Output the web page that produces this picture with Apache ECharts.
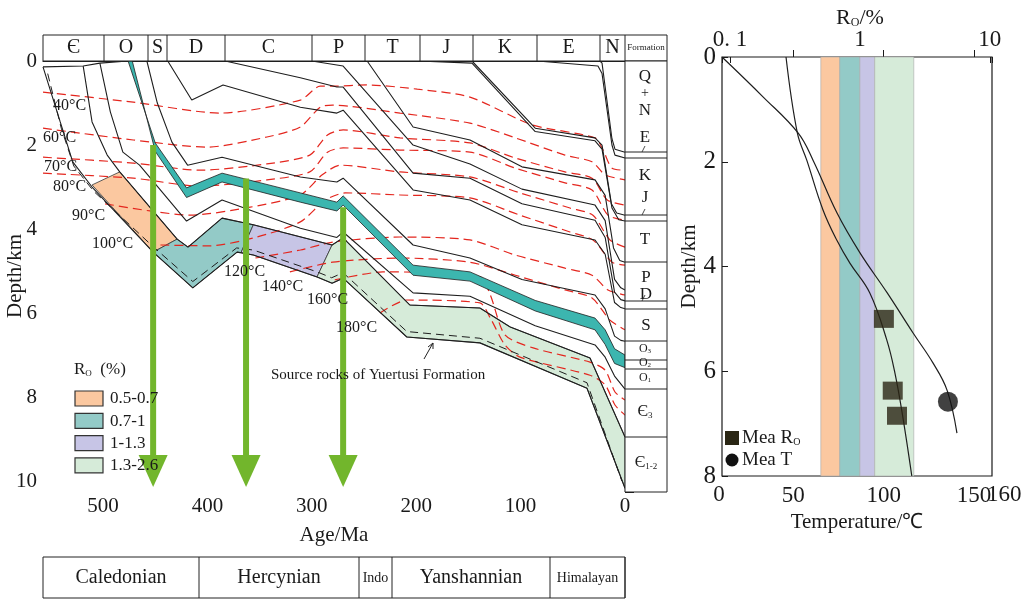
<!DOCTYPE html>
<html><head><meta charset="utf-8">
<script src="https://cdn.jsdelivr.net/npm/echarts/dist/echarts.min.js"></script>
<style>html,body{margin:0;padding:0;background:#fff}#c{width:1024px;height:601px}</style>
</head><body><div id="c"></div>
<script>
const FONT = '"Liberation Serif","Times New Roman",serif';
// ---------- Burial history (age Ma, depth km) ----------
const surfaceLine = [[557.5,0.14],[519,0.12],[503,0.05],[476,0]];
const baseN = [[24,0],[22,0.05],[12.5,1.85],[9.6,2.1],[0,2.17]];
const baseE = [[84,0],[25.9,0.12],[22,0.3],[12.5,2.0],[9.6,2.24],[0,2.31]];
const baseK = [[146.6,0],[86,1.6],[28.7,1.83],[22,2.0],[13,3.4],[8,3.62],[0,3.67]];
const baseJ = [[198,0],[146.6,0.05],[86,1.68],[28.7,1.9],[22,2.1],[12.5,3.5],[6,3.78],[0,3.81]];
const baseT = [[247,0],[203,1.57],[148.5,1.88],[98.7,2.52],[28.7,2.83],[19,3.2],[11,4.45],[5,4.75],[0,4.79]];
const baseP = [[300,0],[270,0.12],[203,2.0],[148.5,2.45],[98.7,3.05],[28.7,3.43],[19,3.8],[10,5.2],[4,5.4],[0,5.45]];
const baseC = [[383,0],[311,0.4],[276,0.62],[270,0.62],[203,2.67],[148.5,2.79],[98.7,3.4],[28.7,3.79],[19,4.2],[10,5.5],[4,5.68],[0,5.71]];
const baseD = [[438,0],[415,0.93],[385,0.57],[311,1.1],[276,1.24],[270,1.17],[203,3.07],[148.5,3.31],[98.7,3.9],[28.7,4.26],[19,4.6],[10,5.75],[4,5.87],[0,5.9]];
const baseS = [[458,0],[448,1.0],[434,1.93],[419,2.48],[386,2.29],[311,2.76],[276,2.88],[270,2.79],[203,4.38],[148.5,4.69],[98.7,5.2],[28.7,5.57],[19,5.9],[10,6.55],[4,6.65],[0,6.67]];
const tealTop = [[476,0],[450,1.95],[420,3.02],[386,2.67],[311,3.14],[276,3.36],[270,3.21],[203,4.86],[148.5,5.02],[86,5.7],[28.7,6.12],[19,6.4],[10,6.85],[0,7.0]];
const tealBottom = [[472,0],[450,2.15],[420,3.25],[386,2.88],[311,3.36],[276,3.57],[270,3.43],[203,5.1],[148.5,5.24],[86,5.95],[28.7,6.4],[19,6.75],[10,7.2],[0,7.3]];
const baseO1 = [[503,0.05],[493,1.21],[481,2.17],[465,2.48],[420,3.81],[386,3.31],[311,3.98],[276,4.2],[270,4.07],[203,5.52],[148.5,5.6],[86,6.3],[28.7,6.76],[19,7.05],[10,7.5],[0,7.81]];
const sourceTop = [[519,0.12],[510.5,1.45],[496,2.24],[484,2.64],[429,4.24],[418.6,4.43],[386,3.74],[356,3.9],[280.6,4.38],[270,4.21],[206,5.81],[139,5.88],[110,6.33],[33.5,7.07],[0,8.95]];
const sourceBottom = [[557.5,0.14],[541,1.45],[529,2.4],[510.5,3.0],[452,4.55],[414,5.4],[371.6,4.55],[356,4.62],[295,5.14],[280.6,5.29],[270,5.17],[209,6.57],[139,6.71],[36.4,7.79],[0,10.17]];
const sourceDashed = [[553,0.3],[540,1.6],[528,2.5],[509,3.1],[452,4.42],[414,5.25],[372,4.45],[356,4.5],[295,5.02],[281,5.16],[270,5.04],[209,6.44],[139,6.6],[36.4,7.66],[3,10.0]];
// Ro zones of the source rock
const roOrange = [[510.5,2.95],[484,2.64],[429,4.24],[452,4.55]];
const roTeal = [[452,4.55],[429,4.24],[418.6,4.43],[386,3.74],[356,3.9],[367.8,4.56],[371.6,4.55],[414,5.4]];
const roPurple = [[356,3.9],[280.6,4.38],[295,5.14],[356,4.62],[367.8,4.56]];
const roGreen = [[280.6,4.38],[270,4.21],[206,5.81],[139,5.88],[110,6.33],[33.5,7.07],[0,8.95],[0,10.17],[36.4,7.79],[139,6.71],[209,6.57],[270,5.17],[280.6,5.29],[295,5.14]];
// Isotherms
const iso40 = [[557.5,0.74],[471,0.98],[388,1.24],[311,0.93],[292,0.6],[280,0.6],[247,0.57],[199,0.67],[148.5,0.86],[89,1.52],[28.7,1.83],[21,2.12],[12.5,2.55],[0,2.6]];
const iso60 = [[557.5,1.6],[471,1.88],[400,2.05],[343,1.81],[311,1.57],[292,1.1],[280,1.05],[215.5,1.24],[148.5,1.48],[105,1.83],[57.5,2.24],[31.6,2.4],[19,2.71],[0,2.83]];
const iso70 = [[557.5,2.29],[471,2.43],[407,2.6],[343,2.45],[302,2.24],[285,1.76],[270,1.64],[215.5,1.83],[148.5,1.95],[105,2.31],[57.5,2.64],[31.6,2.79],[17,3.31],[0,3.43]];
const iso80 = [[557.5,2.67],[471,2.79],[407,2.98],[343,2.83],[302,2.64],[285,2.17],[270,2.07],[215.5,2.12],[148.5,2.17],[105,2.55],[57.5,2.9],[31.6,3.07],[16.3,3.67],[0,3.79]];
const iso90 = [[498,3.4],[455,3.57],[416.7,3.67],[359,3.48],[311,3.19],[290,2.71],[273,2.48],[215.5,2.64],[148.5,2.76],[100.6,3.14],[52.7,3.5],[30.7,3.67],[14.4,4.26],[0,4.43]];
const iso100 = [[445,4.38],[397.5,4.4],[352.5,4.19],[311,3.83],[287,3.31],[268,3.14],[215.5,3.19],[148.5,3.26],[100.6,3.67],[52.7,4.07],[30.7,4.26],[12.5,4.79],[0,4.86]];
const iso120 = [[354,4.69],[311,4.5],[280,4.31],[215.5,4.19],[148.5,4.26],[105,4.62],[57.5,4.93],[31.6,5.1],[16.3,5.45],[0,5.57]];
const iso140 = [[321,5.02],[280,4.79],[215.5,4.69],[148.5,4.79],[105,5.1],[57.5,5.45],[31.6,5.64],[14.4,6.17],[0,6.4]];
const iso160 = [[278,5.21],[232,5.02],[139,5.14],[129,5.57],[115,6.52],[88,6.83],[33.5,7.17],[19,7.36],[9.6,7.88],[0,8.07]];
const iso180 = [[234.7,6.0],[209,5.69],[139,5.76],[129,6.12],[115,6.76],[100.6,7.05],[33.5,7.48],[19,7.71],[9.6,8.19],[0,8.43]];
// Green arrows: [age, top depth, tip depth]
const arrows = [[452,2.0,10.14],[363,2.8,10.14],[270,3.48,10.14]];
// ---------- Right panel ----------
const roProfile = [[0.27,0],[0.33,1.45],[0.39,1.97],[0.52,2.92],[0.665,3.5],[0.84,3.94],[1.19,4.5],[1.61,5.4],[1.86,6.03],[2.14,6.87],[2.51,8.0]];
const tProfile = [[10.5,0],[33.2,0.76],[52.6,1.45],[60.9,1.97],[74.2,2.98],[86.9,3.74],[101.9,4.5],[116.3,5.27],[127.3,5.84],[135.1,6.36],[140.6,7.18]];
const meaRo = [[1.53,5.0],[1.79,6.37],[1.93,6.85]];
const meaT = [[135.6,6.58]];
const roBands = [[0.5,0.7],[0.7,1.0],[1.0,1.3],[1.3,2.6]];
const tempTicks = [50,100,150];
const tempLabels = [50,100,150];
// ---------- text tables ----------
const periods = [['Є',43,104],['O',104,148],['S',148,167],['D',167,225],['C',225,312],['P',312,365],['T',365,420],['J',420,473],['K',473,537],['E',537,600],['N',600,625]];
const tectonics = [['Caledonian',43,199,20],['Hercynian',199,359,20],['Indo',359,392,14],['Yanshannian',392,550,20],['Himalayan',550,625,14]];

const RED = '#e4261e', GREEN = '#72b62c', BLK = '#1e1e1e';
const C_OR = '#fbc8a0', C_TE = '#93cac7', C_PU = '#c7c5e6', C_GR = '#d6ebd9', C_BAND = '#3cb6af';

function blackLine(d){return {type:'line',xAxisIndex:0,yAxisIndex:0,data:d,symbol:'none',silent:true,z:5,lineStyle:{color:BLK,width:1.1}};}
function isoLine(d){return {type:'line',xAxisIndex:0,yAxisIndex:0,data:d,symbol:'none',silent:true,z:4,smooth:0.25,lineStyle:{color:RED,width:1.2,type:[9,5]}};}
function poly(verts,fill,stroke,z){return {type:'custom',xAxisIndex:0,yAxisIndex:0,z:z,silent:true,data:[[0,0]],
  renderItem:(p,api)=>({type:'polygon',shape:{points:verts.map(v=>api.coord(v))},style:{fill:fill,stroke:stroke,lineWidth:0.8}})};}

const series = [
  poly(roOrange,C_OR,'#333',1), poly(roTeal,C_TE,'#333',1), poly(roPurple,C_PU,'#333',1), poly(roGreen,C_GR,'#333',1),
  poly(tealTop.concat(tealBottom.slice().reverse()),C_BAND,BLK,6),
  isoLine(iso40),isoLine(iso60),isoLine(iso70),isoLine(iso80),isoLine(iso90),isoLine(iso100),
  isoLine(iso120),isoLine(iso140),isoLine(iso160),isoLine(iso180),
  blackLine(surfaceLine),blackLine(baseN),blackLine(baseE),blackLine(baseK),blackLine(baseJ),blackLine(baseT),
  blackLine(baseP),blackLine(baseC),blackLine(baseD),blackLine(baseS),blackLine(baseO1),
  blackLine(sourceTop),blackLine(sourceBottom),
  {type:'line',xAxisIndex:0,yAxisIndex:0,data:sourceDashed,symbol:'none',silent:true,z:5,lineStyle:{color:BLK,width:1,type:[8,5]}},
  {type:'custom',xAxisIndex:0,yAxisIndex:0,z:20,silent:true,data:arrows,encode:{x:0,y:1},
   renderItem:(p,api)=>{const a=api.value(0);const top=api.coord([a,api.value(1)]);const tip=api.coord([a,api.value(2)]);
     const hh=32,hw=14.5;
     return {type:'group',children:[
       {type:'line',shape:{x1:top[0],y1:top[1],x2:tip[0],y2:tip[1]-hh+2},style:{stroke:GREEN,lineWidth:6}},
       {type:'polygon',shape:{points:[[tip[0]-hw,tip[1]-hh],[tip[0]+hw,tip[1]-hh],[tip[0],tip[1]]]},style:{fill:GREEN}}]};}},
  // right panel
  {type:'line',xAxisIndex:3,yAxisIndex:2,data:roProfile,symbol:'none',smooth:0.4,silent:true,z:5,lineStyle:{color:BLK,width:1.2},
   markArea:{silent:true,data:roBands.map((b,i)=>[{xAxis:b[0],itemStyle:{color:[C_OR,C_TE,C_PU,C_GR][i],borderColor:'#aaa',borderWidth:0.6}},{xAxis:b[1]}])}},
  {type:'line',xAxisIndex:2,yAxisIndex:2,data:tProfile,symbol:'none',smooth:0.4,silent:true,z:5,lineStyle:{color:BLK,width:1.2}},
  {type:'scatter',xAxisIndex:3,yAxisIndex:2,data:meaRo,symbol:'rect',symbolSize:[20,18],itemStyle:{color:'#2a2614'},z:6},
  {type:'scatter',xAxisIndex:2,yAxisIndex:2,data:meaT,symbol:'circle',symbolSize:20,itemStyle:{color:'#111'},z:6}
];

function T(x,y,text,size,align,extra){return Object.assign({type:'text',x:x,y:y,z:50,silent:true,style:{text:text,font:size+'px '+FONT,fill:'#1a1a1a',align:align||'center',verticalAlign:'middle'}},extra||{});}
function richT(x,y,text,size,align){return {type:'text',x:x,y:y,z:50,silent:true,style:{text:text,fill:'#1a1a1a',align:align||'center',verticalAlign:'middle',
  rich:{a:{fontSize:size,fontFamily:FONT,fill:'#1a1a1a'},s:{fontSize:Math.round(size*0.55),fontFamily:FONT,fill:'#1a1a1a',verticalAlign:'bottom',padding:[Math.round(size*0.45),0,0,0]}}}};}
function L(x1,y1,x2,y2,w){return {type:'line',z:49,silent:true,shape:{x1:x1,y1:y1,x2:x2,y2:y2},style:{stroke:'#222',lineWidth:w||1}};}
function R(x,y,w,h,fill,stroke){return {type:'rect',z:49,silent:true,shape:{x:x,y:y,width:w,height:h},style:{fill:fill||'none',stroke:stroke||'#222',lineWidth:1}};}

const g = [];
// header
g.push(R(43,35,624,26,'#fff'));
periods.forEach(p=>{g.push(L(p[2],35,p[2],61)); g.push(T((p[1]+p[2])/2,48,p[0],20));});
g.push(T(646,48,'Formation',9));
// formation column
g.push(R(625,61,42,431,'#fff'));
[152,158,215,221,262,301,309,341,360,369,389,437].forEach(y=>g.push(L(625,y,667,y)));
g.push(T(645,77,'Q',17)); g.push(T(645,93,'+',14)); g.push(T(645,111,'N',17)); g.push(T(645,138,'E',17));
g.push(L(642,152,645,146,0.8));
g.push(T(645,176,'K',17)); g.push(T(645,198,'J',17)); g.push(L(642,215,645,209,0.8));
g.push(T(645,240,'T',17)); g.push(T(646,278,'P',17)); g.push(T(646,295,'D',17)); g.push(L(642,301,645,295,0.8));
g.push(T(646,326,'S',17));
g.push(richT(645,349,'{a|O}{s|3}',12)); g.push(richT(645,363,'{a|O}{s|2}',12)); g.push(richT(645,378,'{a|O}{s|1}',12));
g.push(richT(645,412,'{a|Є}{s|3}',16)); g.push(richT(646,463,'{a|Є}{s|1-2}',16));
// bottom tectonic table
g.push(R(43,557,582,41,'#fff'));
tectonics.forEach(t=>{g.push(L(t[2],557,t[2],598)); g.push(T((t[1]+t[2])/2,578,t[0],t[3]));});
// axis title of the burial panel
g.push(T(15,276,'Depth/km',21,'center',{rotation:Math.PI/2}));
// isotherm labels
[['40°C',53,106],['60°C',43,138],['70°C',44,167],['80°C',53,187],['90°C',72,216],['100°C',92,244],['120°C',224,272],['140°C',262,287],['160°C',307,300],['180°C',336,328]]
  .forEach(l=>g.push(T(l[1],l[2],l[0],16,'left')));
g.push(T(271,375,'Source rocks of Yuertusi Formation',15,'left'));
g.push(L(424,359,433,343,1)); g.push(L(433,343,428,347,1)); g.push(L(433,343,433,349,1));
// Ro legend
g.push(richT(74,370,'{a|R}{s|O}{a|  (%)}',17,'left'));
[[C_OR,'0.5-0.7'],[C_TE,'0.7-1'],[C_PU,'1-1.3'],[C_GR,'1.3-2.6']].forEach((it,i)=>{const y=391+i*22.3;
  g.push({type:'rect',z:48,silent:true,shape:{x:75,y:y,width:28,height:15},style:{fill:it[0],stroke:'#333',lineWidth:1.2}});
  g.push(T(110,y+8,it[1],17,'left'));});
// right panel texts
g.push(richT(860,18,'{a|R}{s|O}{a|/%}',22));
g.push(T(719,495,'0',23));
g.push(T(992,495,'160',23,'left',{x:987}));
g.push({type:'rect',z:50,silent:true,shape:{x:725,y:431,width:14,height:14},style:{fill:'#2a2614'}});
g.push(richT(742,438,'{a|Mea R}{s|O}',19,'left'));
g.push({type:'circle',z:50,silent:true,shape:{cx:732,cy:460,r:6.5},style:{fill:'#111'}});
g.push(T(742,460,'Mea T',19,'left'));

const axisTxt = {fontFamily:FONT,color:'#1a1a1a'};
const option = {
  animation:false,
  backgroundColor:'#fff',
  grid:[
    {left:43,top:61,width:582,height:431,outerBoundsMode:'none',containLabel:false},
    {left:722,top:57,width:270,height:419,show:true,borderColor:'#1a1a1a',borderWidth:1.2,backgroundColor:'transparent',outerBoundsMode:'none',containLabel:false}
  ],
  xAxis:[
    {gridIndex:0,type:'value',inverse:true,min:0,max:557.5,interval:100,position:'bottom',
     axisLine:{lineStyle:{color:'#1a1a1a',width:1.2}},axisTick:{inside:true,length:9,lineStyle:{color:'#1a1a1a'}},
     axisLabel:Object.assign({fontSize:21,margin:4,formatter:v=>(v%100===0?String(v):'')},axisTxt),splitLine:{show:false},
     name:'Age/Ma',nameLocation:'middle',nameGap:33,nameTextStyle:Object.assign({fontSize:21},axisTxt)},
    {gridIndex:0,type:'value',inverse:true,min:0,max:557.5,interval:10,position:'bottom',
     axisLine:{show:false},axisTick:{inside:true,length:4,lineStyle:{color:'#1a1a1a'}},axisLabel:{show:false},splitLine:{show:false}},
    {gridIndex:1,type:'value',min:10.5,max:160,position:'bottom',
     axisLine:{show:false},axisTick:{inside:true,length:7,customValues:tempTicks,lineStyle:{color:'#1a1a1a'}},
     axisLabel:Object.assign({fontSize:23,margin:8,customValues:tempLabels,hideOverlap:false},axisTxt),splitLine:{show:false},
     name:'Temperature/℃',nameLocation:'middle',nameGap:32,nameTextStyle:Object.assign({fontSize:21},axisTxt)},
    {gridIndex:1,type:'log',logBase:10,min:0.0868,max:10.4,position:'top',
     axisLine:{show:false},axisTick:{inside:true,length:6,lineStyle:{color:'#1a1a1a'}},
     axisLabel:Object.assign({fontSize:23,margin:6,formatter:v=>{if(Math.abs(v-0.1)<1e-6)return '0. 1';if(Math.abs(v-1)<1e-6)return '1';if(Math.abs(v-10)<1e-5)return '10';return '';}},axisTxt),
     splitLine:{show:false}}
  ],
  yAxis:[
    {gridIndex:0,type:'value',inverse:true,min:0,max:10.26,interval:2,position:'left',
     axisLine:{lineStyle:{color:'#1a1a1a',width:1.2}},axisTick:{inside:true,length:9,lineStyle:{color:'#1a1a1a'}},
     axisLabel:Object.assign({fontSize:21,margin:6,formatter:v=>(Math.abs(v-Math.round(v))<1e-6&&Math.round(v)%2===0?String(Math.round(v)):'')},axisTxt),
     splitLine:{show:false}},
    {gridIndex:0,type:'value',inverse:true,min:0,max:10.26,interval:0.4,position:'left',
     axisLine:{show:false},axisTick:{inside:true,length:4,lineStyle:{color:'#1a1a1a'}},axisLabel:{show:false},splitLine:{show:false}},
    {gridIndex:1,type:'value',inverse:true,min:0,max:8,interval:2,position:'left',
     axisLine:{show:false},axisTick:{inside:true,length:6,lineStyle:{color:'#1a1a1a'}},
     axisLabel:Object.assign({fontSize:25,margin:6},axisTxt),splitLine:{show:false},
     name:'Depth/km',nameLocation:'middle',nameRotate:90,nameGap:20,nameTextStyle:Object.assign({fontSize:21},axisTxt)}
  ],
  series:series,
  graphic:g
};
const chart = echarts.init(document.getElementById('c'));
chart.setOption(option);
</script></body></html>
